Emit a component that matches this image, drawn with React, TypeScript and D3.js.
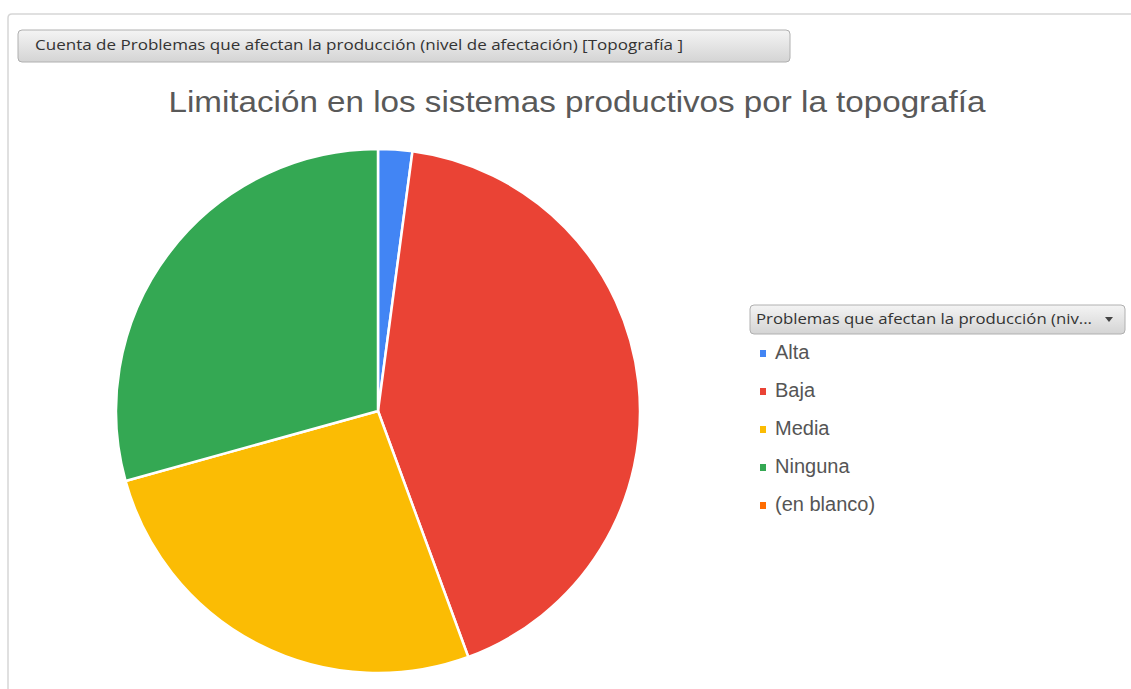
import React, { useEffect, useRef } from 'react'
import * as d3 from 'd3'

// level names and their share of answers
const categories = ['Alta', 'Baja', 'Media', 'Ninguna', '(en blanco)']
const values = [2.1, 42.3, 26.3, 29.3, 0]
const colors = ['#4285f4', '#ea4335', '#fbbc04', '#34a853', '#ff6d01']

const chartTitle = 'Limitación en los sistemas productivos por la topografía'
const fieldLabel = 'Cuenta de Problemas que afectan la producción (nivel de afectación) [Topografía ]'
const legendLabel = 'Problemas que afectan la producción (niv...'

const App: React.FC = () => {
  const svgRef = useRef<SVGSVGElement>(null)

  useEffect(() => {
    if (!svgRef.current) return
    document.body.style.margin = '0'

    const svg = d3.select(svgRef.current)
    svg.selectAll('*').remove()

    const width = 1131
    const height = 689
    svg.attr('width', width).attr('height', height)

    // button gradient
    const defs = svg.append('defs')
    const grad = defs.append('linearGradient')
      .attr('id', 'btnGrad')
      .attr('x1', 0).attr('y1', 0).attr('x2', 0).attr('y2', 1)
    grad.append('stop').attr('offset', '0%').attr('stop-color', '#f4f4f4')
    grad.append('stop').attr('offset', '100%').attr('stop-color', '#d4d4d4')

    // outer frame
    svg.append('path')
      .attr('d', `M8,${height} L8,18 Q8,14 12,14 L${width},14`)
      .attr('fill', 'none')
      .attr('stroke', '#d6d6d6')
      .attr('stroke-width', 1.5)

    // field button
    svg.append('rect')
      .attr('x', 18).attr('y', 30)
      .attr('width', 772).attr('height', 32)
      .attr('rx', 4)
      .attr('fill', 'url(#btnGrad)')
      .attr('stroke', '#b0b0b0')
    svg.append('text')
      .attr('x', 35).attr('y', 46)
      .attr('dominant-baseline', 'middle')
      .attr('textLength', 648)
      .attr('lengthAdjust', 'spacingAndGlyphs')
      .style('font-family', '"Open Sans", sans-serif')
      .style('font-size', '14px')
      .style('fill', '#333')
      .text(fieldLabel)

    // title
    svg.append('text')
      .attr('x', 577).attr('y', 112)
      .attr('text-anchor', 'middle')
      .attr('textLength', 817)
      .attr('lengthAdjust', 'spacingAndGlyphs')
      .style('font-family', '"Liberation Sans", Arial, sans-serif')
      .style('font-size', '30px')
      .style('fill', '#595959')
      .text(chartTitle)

    // pie
    const cx = 378
    const cy = 411
    const radius = 262
    const pieData = categories.map((c, i) => ({ name: c, value: values[i], color: colors[i] }))
    const pie = d3.pie<{ name: string; value: number; color: string }>()
      .sort(null)
      .value(d => d.value)
    const arc = d3.arc<d3.PieArcDatum<{ name: string; value: number; color: string }>>()
      .innerRadius(0)
      .outerRadius(radius)

    const g = svg.append('g').attr('transform', `translate(${cx},${cy})`)
    g.selectAll('path')
      .data(pie(pieData).filter(d => d.data.value > 0))
      .enter()
      .append('path')
      .attr('d', arc)
      .attr('fill', d => d.data.color)
      .attr('stroke', '#fff')
      .attr('stroke-width', 2.5)
      .attr('stroke-linejoin', 'round')

    // legend header button
    svg.append('rect')
      .attr('x', 750).attr('y', 305)
      .attr('width', 375).attr('height', 29)
      .attr('rx', 4)
      .attr('fill', 'url(#btnGrad)')
      .attr('stroke', '#b0b0b0')
    svg.append('text')
      .attr('x', 756).attr('y', 320)
      .attr('dominant-baseline', 'middle')
      .attr('textLength', 336)
      .attr('lengthAdjust', 'spacingAndGlyphs')
      .style('font-family', '"Open Sans", sans-serif')
      .style('font-size', '14px')
      .style('fill', '#333')
      .text(legendLabel)
    svg.append('path')
      .attr('d', 'M1105,317 L1113,317 L1109,322 Z')
      .attr('fill', '#444')

    // legend items
    const legendY = d3.scalePoint<string>()
      .domain(categories)
      .range([353, 505])
    const items = svg.selectAll('.legend-item')
      .data(pieData)
      .enter()
      .append('g')
      .attr('class', 'legend-item')
      .attr('transform', d => `translate(763, ${legendY(d.name)})`)
    items.append('rect')
      .attr('x', -3).attr('y', -3)
      .attr('width', 6).attr('height', 7)
      .attr('fill', d => d.color)
    items.append('text')
      .attr('x', 12)
      .attr('y', 1)
      .attr('dominant-baseline', 'middle')
      .style('font-family', '"Liberation Sans", Arial, sans-serif')
      .style('font-size', '20px')
      .style('fill', '#555')
      .text(d => d.name)
  }, [])

  return <svg ref={svgRef} style={{ display: 'block', background: '#fff' }}></svg>
}

export default App
